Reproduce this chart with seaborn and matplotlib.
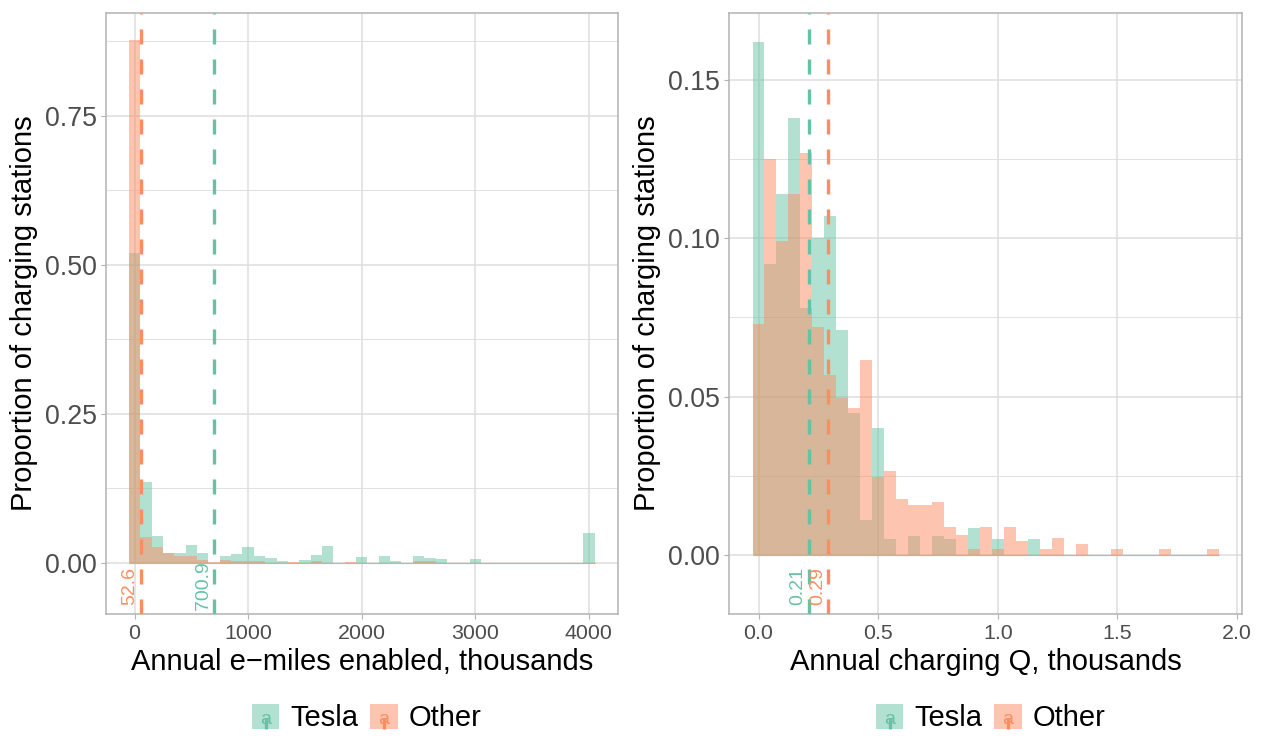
import matplotlib
matplotlib.use("Agg")
import matplotlib.pyplot as plt
import numpy as np
import pandas as pd
import seaborn as sns
from matplotlib.legend_handler import HandlerBase
from matplotlib.patches import Rectangle
from matplotlib.lines import Line2D
from matplotlib.text import Text
from matplotlib.ticker import MultipleLocator, FormatStrFormatter

# ---------------- data ----------------
groups = ["Tesla", "Other"]
group_colors = ["#66C2A5", "#FC8D62"]

# Left panel: annual e-miles enabled (thousands); bin centres (width 100)
miles_centers = [0, 100, 200, 300, 400, 500, 600, 700, 800, 900,
                 1000, 1100, 1200, 1300, 1400, 1500, 1600, 1700, 1800, 1900,
                 2000, 2100, 2200, 2300, 2400, 2500, 2600, 2700, 2800, 2900,
                 3000, 3100, 3200, 3300, 3400, 3500, 3600, 3700, 3800, 3900,
                 4000]
miles_tesla = [0.520, 0.136, 0.044, 0.016, 0.016, 0.030, 0.016, 0.000, 0.012, 0.0145,
               0.027, 0.012, 0.008, 0.0034, 0.000, 0.005, 0.0134, 0.0285, 0.000, 0.000,
               0.010, 0.000, 0.012, 0.0034, 0.000, 0.012, 0.008, 0.0067, 0.000, 0.000,
               0.0067, 0.000, 0.000, 0.000, 0.000, 0.000, 0.000, 0.000, 0.000, 0.000,
               0.049]
miles_other = [0.877, 0.0425, 0.0257, 0.016, 0.0106, 0.0106, 0.005, 0.001, 0.004, 0.002,
               0.002, 0.002, 0.000, 0.000, 0.001, 0.000, 0.0034, 0.000, 0.000, 0.0017,
               0.000, 0.000, 0.000, 0.000, 0.000, 0.0034, 0.0034, 0.000, 0.000, 0.000,
               0.000, 0.000, 0.000, 0.000, 0.000, 0.000, 0.000, 0.000, 0.000, 0.000,
               0.000]
miles_means = [700.9, 52.6]
miles_mean_labels = ["700.9", "52.6"]

# Right panel: annual charging Q (thousands); bin centres (width 0.05)
q_centers = [0.00, 0.05, 0.10, 0.15, 0.20, 0.25, 0.30, 0.35, 0.40, 0.45,
             0.50, 0.55, 0.60, 0.65, 0.70, 0.75, 0.80, 0.85, 0.90, 0.95,
             1.00, 1.05, 1.10, 1.15, 1.20, 1.25, 1.30, 1.35, 1.40, 1.45,
             1.50, 1.55, 1.60, 1.65, 1.70, 1.75, 1.80, 1.85, 1.90]
q_tesla = [0.162, 0.092, 0.114, 0.138, 0.078, 0.100, 0.107, 0.071, 0.045, 0.011,
           0.040, 0.005, 0.000, 0.006, 0.000, 0.006, 0.005, 0.000, 0.0086, 0.000,
           0.005, 0.000, 0.000, 0.005, 0.000, 0.000, 0.000, 0.000, 0.000, 0.000,
           0.000, 0.000, 0.000, 0.000, 0.000, 0.000, 0.000, 0.000, 0.000]
q_other = [0.073, 0.125, 0.099, 0.114, 0.127, 0.072, 0.057, 0.0495, 0.0465, 0.0617,
           0.0247, 0.0265, 0.0177, 0.0158, 0.0158, 0.0168, 0.0089, 0.0064, 0.002, 0.0089,
           0.002, 0.0089, 0.0045, 0.000, 0.002, 0.0055, 0.000, 0.0036, 0.000, 0.000,
           0.002, 0.000, 0.000, 0.000, 0.002, 0.000, 0.000, 0.000, 0.002]
q_means = [0.21, 0.29]
q_mean_labels = ["0.21", "0.29"]

x_titles = ["Annual e\u2212miles enabled, thousands", "Annual charging Q, thousands"]
y_title = "Proportion of charging stations"

# ---------------- style ----------------
sns.set_style("white")
plt.rcParams["font.family"] = ["Liberation Sans", "DejaVu Sans"]

BORDER = "#B3B3B3"
GRID = "#DEDEDE"
TICKTXT = "#4D4D4D"

fig = plt.figure(figsize=(12.63, 7.36), dpi=100)
W, H = 1263.0, 736.0
TOP, BOT = 13.0, 613.7
ax1 = fig.add_axes([105.6 / W, 1 - BOT / H, (617.8 - 105.6) / W, (BOT - TOP) / H])
ax2 = fig.add_axes([729.2 / W, 1 - BOT / H, (1242.5 - 729.2) / W, (BOT - TOP) / H])


def draw_panel(ax, centers, tesla, other, means, labels, xlim, ylim,
               xmajor, ymajor, yminor, xfmt, yfmt, label_y, xtitle):
    c = np.asarray(centers, dtype=float)
    half = (c[1] - c[0]) / 2
    brange = (float(c[0] - half), float(c[-1] + half))
    df = pd.DataFrame({
        "x": list(centers) * 2,
        "w": list(tesla) + list(other),
        "group": ["Tesla"] * len(centers) + ["Other"] * len(centers),
    })
    for g, col in zip(groups, group_colors):
        sub = df[df["group"] == g]
        sns.histplot(data=sub, x="x", weights="w", bins=len(centers), binrange=brange,
                     stat="count", color=col, alpha=0.5, linewidth=0,
                     edgecolor="none", ax=ax, zorder=2)
        # zero-height bins leave a faint baseline across the binned range
        ax.hlines(0, brange[0], brange[1], color=col, alpha=0.5, lw=0.8, zorder=2)
    for m, lab, col in zip(means, labels, group_colors):
        ax.axvline(m, color=col, lw=2.4, linestyle=(0, (4.5, 4.5)), zorder=3)
        ax.annotate(lab, xy=(m, label_y), xytext=(-1.5, 0), textcoords="offset points",
                    rotation=90, ha="right", va="center", color=col,
                    fontsize=14, zorder=4)
    ax.set_xlim(*xlim)
    ax.set_ylim(*ylim)
    ax.xaxis.set_major_locator(MultipleLocator(xmajor))
    ax.yaxis.set_major_locator(MultipleLocator(ymajor))
    ax.yaxis.set_minor_locator(MultipleLocator(yminor))
    ax.xaxis.set_major_formatter(FormatStrFormatter(xfmt))
    ax.yaxis.set_major_formatter(FormatStrFormatter(yfmt))
    ax.set_axisbelow(True)
    ax.grid(False)
    ax.xaxis.grid(True, which="major", color=GRID, lw=1.1)
    ax.yaxis.grid(True, which="major", color=GRID, lw=1.1)
    ax.yaxis.grid(True, which="minor", color=GRID, lw=0.65)
    for s in ax.spines.values():
        s.set_color(BORDER)
        s.set_linewidth(1.1)
        s.set_visible(True)
    ax.tick_params(axis="both", which="major", length=3.3, width=0.8, color=BORDER,
                   labelcolor=TICKTXT, direction="out", bottom=True, left=True)
    ax.tick_params(axis="x", which="major", labelsize=15.4, pad=4.0)
    ax.tick_params(axis="y", which="major", labelsize=19.3, pad=3.2)
    ax.tick_params(axis="both", which="minor", length=0)
    ax.set_xlabel(xtitle, fontsize=21, color="black", labelpad=4)
    ax.set_ylabel(y_title, fontsize=21, color="black", labelpad=5)


draw_panel(ax1, miles_centers, miles_tesla, miles_other, miles_means, miles_mean_labels,
           (-255, 4255), (-0.0856, 0.922), 1000, 0.25, 0.125, "%d", "%.2f", -0.0393,
           x_titles[0])
draw_panel(ax2, q_centers, q_tesla, q_other, q_means, q_mean_labels,
           (-0.1225, 2.0225), (-0.0184, 0.171), 0.5, 0.05, 0.025, "%.1f", "%.2f", -0.0097,
           x_titles[1])


class KeyHandler(HandlerBase):
    def __init__(self, color):
        super().__init__()
        self.color = color

    def create_artists(self, legend, orig_handle, xdescent, ydescent, width, height,
                       fontsize, trans):
        x0, y0 = -xdescent, -ydescent
        rect = Rectangle((x0, y0), width, height, facecolor=self.color, alpha=0.5,
                         edgecolor="none", transform=trans)
        line = Line2D([x0 + width / 2] * 2, [y0, y0 + height], color=self.color,
                      lw=2.4, linestyle=(1.2, (4.5, 4.5)), transform=trans)
        txt = Text(x0 + width / 2, y0 + height * 0.36, "a", color=self.color,
                   fontsize=14, ha="center", va="center", transform=trans)
        return [rect, txt, line]


for cx in [366.5, 990.5]:
    handles = [Rectangle((0, 0), 1, 1) for _ in groups]
    hmap = {h: KeyHandler(c) for h, c in zip(handles, group_colors)}
    fig.legend(handles, groups, loc="center", bbox_to_anchor=(cx / W, 1 - 718 / H),
               ncol=2, frameon=False, fontsize=21, handlelength=0.95, handleheight=0.95,
               handletextpad=0.37, columnspacing=0.4, borderpad=0, borderaxespad=0,
               handler_map=hmap, labelcolor="black")

fig.savefig("out.png", dpi=100)
